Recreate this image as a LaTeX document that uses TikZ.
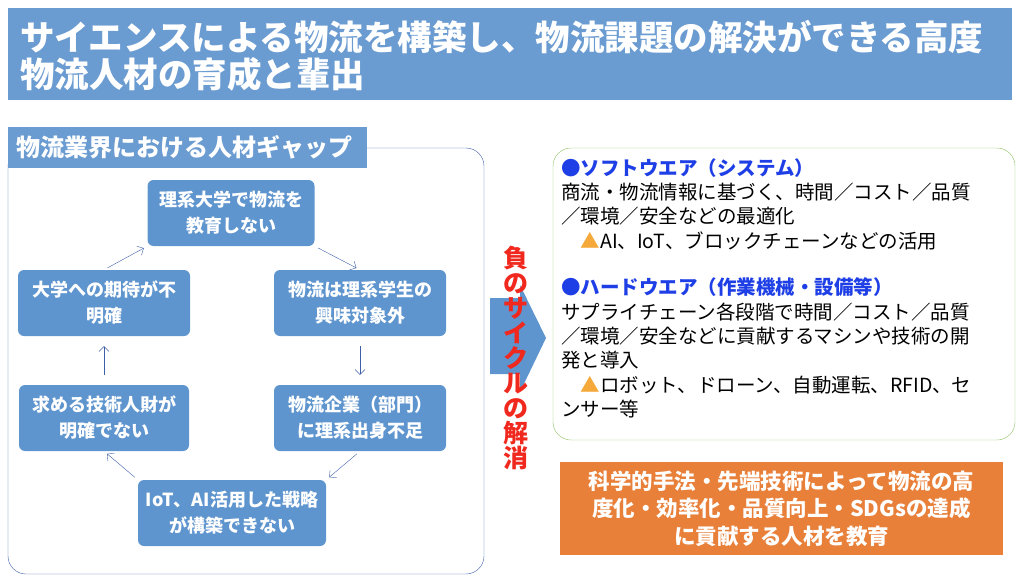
\documentclass[tikz,border=0pt]{standalone}
\usepackage{fontspec}
\setmainfont{Noto Sans CJK JP}
\usetikzlibrary{positioning, calc, arrows.meta}
\definecolor{bannerblue}{HTML}{6A9BD1}
\definecolor{cellblue}{HTML}{5F95CE}
\definecolor{framblue}{HTML}{3D5FA8}
\definecolor{headblue}{HTML}{1E3FE6}
\definecolor{boxgreen}{HTML}{8CC063}
\definecolor{boxorange}{HTML}{E8803A}
\definecolor{triorange}{HTML}{F4A93A}
\definecolor{cyclered}{HTML}{F0281E}

\begin{document}
\begin{tikzpicture}[x=1pt, y=-1pt,
			cell/.style = {rectangle, rounded corners = 6pt, fill = cellblue, text = white, font = \fontsize{18}{26}\selectfont\bfseries, align = center, minimum height = 66pt, inner sep = 0pt},
			cyc/.style = {-{Straight Barb[length=5pt]}, framblue, thin, shorten >= 4pt, shorten <= 4pt},
			banner/.style = {rectangle, fill = bannerblue, text = white, font = \bfseries, anchor = north west, inner sep = 0pt},
		]
		\useasboundingbox (0,0) rectangle (1024,583);

		% title
		\node[banner, minimum width = 1004pt, minimum height = 92pt] (title) at (8,8) {};
		\node[anchor = west, text = white, font = \fontsize{34.5}{37}\selectfont\bfseries, align = left, inner sep = 0pt] (titletext) at (20,56) {サイエンスによる物流を構築し、物流課題の解決ができる高度\\物流人材の育成と輩出};

		% left frame
		\draw[framblue, rounded corners = 18pt] (8,148) rectangle (484,574);
		\node[banner, minimum width = 359pt, minimum height = 41pt] (gap) at (8,127) {};
		\node[anchor = west, text = white, font = \fontsize{24}{28}\selectfont\bfseries, inner sep = 0pt] (gaptext) at (16,147.5) {物流業界における人材ギャップ};

		\node[cell, minimum width = 167pt](T) at (231,213){理系大学で物流を\\教育しない};
		\node[cell, minimum width = 172pt](R1) at (360,303){物流は理系学生の\\興味対象外};
		\node[cell, minimum width = 172pt](R2) at (360,418){物流企業（部門）\\に理系出身不足};
		\node[cell, minimum width = 188pt](B) at (232,513){IoT、AI活用した戦略\\が構築できない};
		\node[cell, minimum width = 170pt](L2) at (104,418){求める技術人財が\\明確でない};
		\node[cell, minimum width = 172pt](L1) at (104,303){大学への期待が不\\明確};

		\draw[cyc](T.south east)--(R1.north);
		\draw[cyc, shorten >= 10pt, shorten <= 10pt](R1.south)--(R2.north);
		\draw[cyc](R2.south)--(B.north east);
		\draw[cyc](B.north west)--(L2.south);
		\draw[cyc, shorten >= 10pt, shorten <= 10pt](L2.north)--(L1.south);
		\draw[cyc](L1.north)--(T.south west);

		% big arrow
		\fill[cellblue] (490,298) -- (520,298) -- (520,285) -- (546,338) -- (520,392) -- (520,374) -- (490,374) -- cycle;
		\node[text = cyclered, font = \fontsize{25}{25}\selectfont\bfseries, align = center, inner sep = 0pt] (cycle) at (516,358) {負\\の\\サ\\イ\\ク\\ル\\の\\解\\消};

		% right boxes
		\draw[boxgreen, rounded corners = 18pt] (553,148) rectangle (1015,440);
		\node[anchor = north west, align = left, inner sep = 0pt, font = \fontsize{19.5}{24.4}\selectfont] (measures) at (561,158) {%
			{\color{headblue}\bfseries ●ソフトウエア（システム）}\\
			商流・物流情報に基づく、時間／コスト／品質\\
			／環境／安全などの最適化\\
			\hspace{1em}{\color{triorange}▲}AI、IoT、ブロックチェーンなどの活用\\[22pt]
			{\color{headblue}\bfseries ●ハードウエア（作業機械・設備等）}\\
			サプライチェーン各段階で時間／コスト／品質\\
			／環境／安全などに貢献するマシンや技術の開\\
			発と導入\\
			\hspace{1em}{\color{triorange}▲}ロボット、ドローン、自動運転、RFID、セ\\
			ンサー等};

		\node[rectangle, fill = boxorange, text = white, minimum width = 443pt, minimum height = 93pt, font = \fontsize{21.5}{27.5}\selectfont\bfseries, align = center, inner sep = 0pt] (goal) at (781.5,508.5) {科学的手法・先端技術によって物流の高\\度化・効率化・品質向上・SDGsの達成\\に貢献する人材を教育};
	\end{tikzpicture}
\end{document}
